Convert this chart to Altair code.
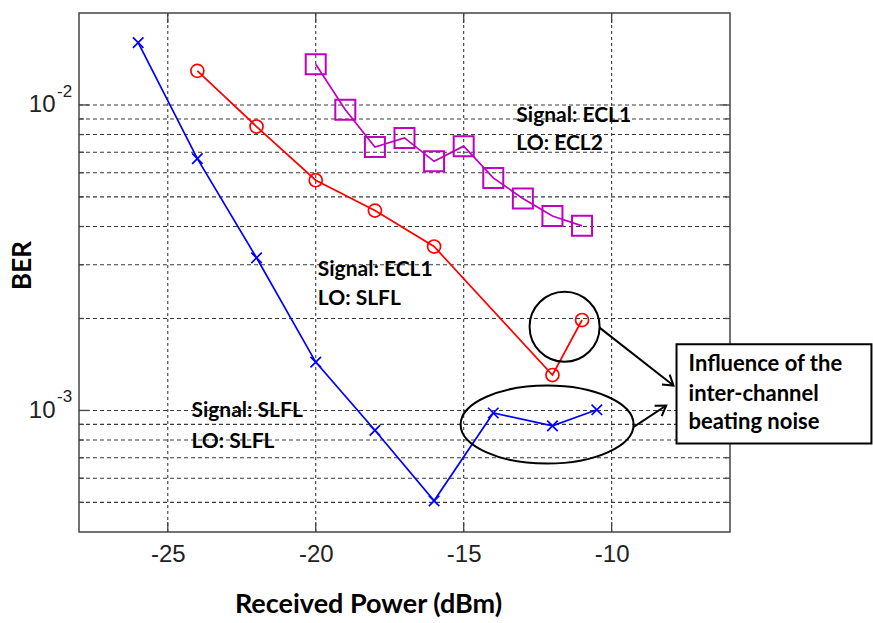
import altair as alt
import pandas as pd

# ---------------- data ----------------
blue_x = [-26, -24, -22, -20, -18, -16, -14, -12, -10.5]
blue_ber = [0.0160, 0.00667, 0.00316, 0.00144, 0.000861, 0.000506, 0.000981, 0.000890, 0.001005]

red_x = [-24, -22, -20, -18, -16, -12, -11]
red_ber = [0.01293, 0.0085, 0.00567, 0.00451, 0.00344, 0.001306, 0.001977]

mag_x = [-20, -19, -18, -17, -16, -15, -14, -13, -12, -11]
mag_ber = [0.0136, 0.00965, 0.00728, 0.0078, 0.00654, 0.00733, 0.00577, 0.00494, 0.00433, 0.00402]

x_ticks = [-25, -20, -15, -10]
y_major = [0.01, 0.001]
y_minor = [0.009, 0.008, 0.007, 0.006, 0.005, 0.004, 0.003, 0.002,
           0.0009, 0.0008, 0.0007, 0.0006, 0.0005]
y_sup = ["-2", "-3"]

notes_text = ["Signal: ECL1", "LO: ECL2", "Signal: ECL1", "LO: SLFL",
              "Signal: SLFL", "LO: SLFL"]
notes_x = [-13.22, -13.22, -19.93, -19.93, -24.2, -24.2]
notes_y = [0.00923, 0.00746, 0.002875, 0.002321, 0.000993, 0.000789]

box_text = ["Influence of the", "inter-channel", "beating noise"]
box_text_x = [-7.40, -7.40, -7.40]
box_text_y = [0.001419, 0.001133, 0.000919]

# ---------------- layout ----------------
W, H = 651, 519
BLUE, RED, MAG = "#0000FF", "#FF0000", "#C000C0"
GRID = "#3a3a3a"
FONT = "Lato"

xs = alt.Scale(domain=[-28, -6], nice=False, zero=False)
ys = alt.Scale(type="log", domain=[4e-4, 2e-2], nice=False)

xa = alt.Axis(values=x_ticks, grid=False, ticks=False, domain=False,
              labelExpr="'-' + abs(datum.value)",
              labelFont="Liberation Sans", labelFontSize=24, labelColor="#222222",
              labelPadding=10, labelFlush=False,
              title="Received Power (dBm)", titleFont=FONT, titleFontSize=27,
              titleFontWeight="bold", titleColor="black",
              titleX=289, titleY=80, titleBaseline="alphabetic", titleAlign="center")
ya = alt.Axis(values=y_major, grid=False, ticks=False, domain=False,
              labelExpr="'10'",
              labelFont="Liberation Sans", labelFontSize=24, labelColor="#222222",
              labelPadding=24, labelFlush=False,
              title="BER", titleFont=FONT, titleFontSize=26, titleFontWeight="bold",
              titleColor="black", titleX=-57, titleY=252, titleAngle=270,
              titleBaseline="middle", titleAlign="center")


def X(field="x"):
    return alt.X(f"{field}:Q", scale=xs, axis=xa)


def Y(field="y"):
    return alt.Y(f"{field}:Q", scale=ys, axis=ya)


# ---------------- grid ----------------
vgrid = alt.Chart(pd.DataFrame({"x": x_ticks})).mark_rule(
    color=GRID, strokeDash=[3, 3], strokeWidth=1.1
).encode(x=X(), y=alt.value(0), y2=alt.value(H))

hgrid = alt.Chart(pd.DataFrame({"y": y_major + y_minor})).mark_rule(
    color=GRID, strokeDash=[4, 3], strokeWidth=1.1
).encode(y=Y(), x=alt.value(0), x2=alt.value(W))

# inward tick marks
xt_bot = alt.Chart(pd.DataFrame({"x": x_ticks})).mark_rule(color="#444", strokeWidth=1.3).encode(
    x=X(), y=alt.value(H), y2=alt.value(H - 10))
xt_top = alt.Chart(pd.DataFrame({"x": x_ticks})).mark_rule(color="#444", strokeWidth=1.3).encode(
    x=X(), y=alt.value(0), y2=alt.value(10))
yt_l = alt.Chart(pd.DataFrame({"y": y_major})).mark_rule(color="#444", strokeWidth=1.3).encode(
    y=Y(), x=alt.value(0), x2=alt.value(10))
yt_r = alt.Chart(pd.DataFrame({"y": y_major})).mark_rule(color="#444", strokeWidth=1.3).encode(
    y=Y(), x=alt.value(W), x2=alt.value(W - 10))
ymt_l = alt.Chart(pd.DataFrame({"y": y_minor})).mark_rule(color="#444", strokeWidth=1.3).encode(
    y=Y(), x=alt.value(0), x2=alt.value(5))
ymt_r = alt.Chart(pd.DataFrame({"y": y_minor})).mark_rule(color="#444", strokeWidth=1.3).encode(
    y=Y(), x=alt.value(W), x2=alt.value(W - 5))

# superscripts of the y labels
sup = alt.Chart(pd.DataFrame({"y": y_major, "t": y_sup})).mark_text(
    font="Liberation Sans", fontSize=17, color="#222222", align="left",
    baseline="middle", dy=-13
).encode(y=Y(), x=alt.value(-22), text="t:N")

# ---------------- series ----------------
dfb = pd.DataFrame({"x": blue_x, "y": blue_ber})
dfr = pd.DataFrame({"x": red_x, "y": red_ber})
dfm = pd.DataFrame({"x": mag_x, "y": mag_ber})

XMARK = "M-1,-1L1,1M-1,1L1,-1"

line_b = alt.Chart(dfb).mark_line(color=BLUE, strokeWidth=1.7).encode(x=X(), y=Y())
pts_b = alt.Chart(dfb).mark_point(shape=XMARK, size=110, color=BLUE, strokeWidth=1.7,
                                  filled=False, opacity=1).encode(x=X(), y=Y())
line_r = alt.Chart(dfr).mark_line(color=RED, strokeWidth=1.7).encode(x=X(), y=Y())
pts_r = alt.Chart(dfr).mark_point(shape="circle", size=170, color=RED, strokeWidth=1.7,
                                  filled=False, opacity=1).encode(x=X(), y=Y())
line_m = alt.Chart(dfm).mark_line(color=MAG, strokeWidth=1.7).encode(x=X(), y=Y())
pts_m = alt.Chart(dfm).mark_point(shape="square", size=400, color=MAG, strokeWidth=2,
                                  filled=False, opacity=1).encode(x=X(), y=Y())

# ---------------- annotations ----------------
def ellipse_path(ry):
    k = 0.5523
    return (f"M-1,0C-1,{-k*ry:.4f},{-k:.4f},{-ry:.4f},0,{-ry:.4f}"
            f"C{k:.4f},{-ry:.4f},1,{-k*ry:.4f},1,0"
            f"C1,{k*ry:.4f},{k:.4f},{ry:.4f},0,{ry:.4f}"
            f"C{-k:.4f},{ry:.4f},-1,{k*ry:.4f},-1,0Z")


circ = alt.Chart(pd.DataFrame({"x": [-11.59], "y": [0.00188]})).mark_point(
    shape=ellipse_path(1.0), size=70 ** 2, color="black", strokeWidth=2,
    filled=False, opacity=1).encode(x=X(), y=Y())
ell = alt.Chart(pd.DataFrame({"x": [-12.18], "y": [0.000899]})).mark_point(
    shape=ellipse_path(0.451), size=173 ** 2, color="black", strokeWidth=2,
    filled=False, opacity=1).encode(x=X(), y=Y())

arrows = pd.DataFrame({"x": [-10.41, -9.25], "y": [0.001867, 0.000883],
                       "x2": [-7.91, -8.155], "y2": [0.001206, 0.001038],
                       "ang": [38, 326]})
arr_lines = alt.Chart(arrows).mark_rule(color="black", strokeWidth=2).encode(
    x=X(), y=Y(), x2="x2:Q", y2="y2:Q")
arr_heads = alt.Chart(arrows).mark_point(
    shape="M-1,-0.65L0,0L-1,0.65", size=380, color="black", strokeWidth=2,
    filled=False, opacity=1).encode(
    x=X("x2"), y=Y("y2"), angle=alt.Angle("ang:Q", scale=None))

box = alt.Chart(pd.DataFrame({"x": [-7.807], "x2": [-1.22], "y": [0.001648], "y2": [0.000779]})).mark_rect(
    fill="white", stroke="black", strokeWidth=2).encode(x=X(), x2="x2:Q", y=Y(), y2="y2:Q")

box_txt = alt.Chart(pd.DataFrame({"x": box_text_x, "y": box_text_y, "t": box_text})).mark_text(
    font=FONT, fontWeight="bold", fontSize=22, color="black", align="left", baseline="middle"
).encode(x=X(), y=Y(), text="t:N")

notes = alt.Chart(pd.DataFrame({"x": notes_x, "y": notes_y, "t": notes_text})).mark_text(
    font=FONT, fontWeight="bold", fontSize=21, color="black", align="left", baseline="middle"
).encode(x=X(), y=Y(), text="t:N")

chart = alt.layer(
    vgrid, hgrid, xt_bot, xt_top, yt_l, yt_r, ymt_l, ymt_r, sup,
    line_b, line_r, line_m, pts_b, pts_r, pts_m,
    circ, ell, arr_lines, arr_heads, box, box_txt, notes
).properties(
    width=W, height=H,
    padding={"left": 79, "top": 13, "right": 143, "bottom": 91},
    autosize=alt.AutoSizeParams(type="none"),
).configure_view(stroke="#444444", strokeWidth=1.5)

chart.save("out.html", embed_options={"renderer": "svg", "actions": False})
